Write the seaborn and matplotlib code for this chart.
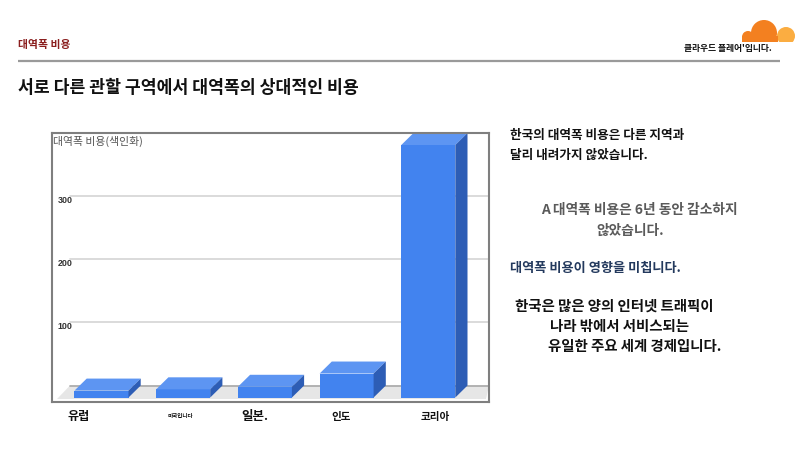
import matplotlib
matplotlib.use('Agg')
import matplotlib.pyplot as plt
import seaborn as sns
from matplotlib.patches import Polygon, Circle, Rectangle
from matplotlib.transforms import ScaledTranslation

# ---------------- data ----------------
categories = ['유럽', '미국입니다', '일본.', '인도', '코리아']
cost_index = [11, 13, 17, 38, 400]
y_ticks = [100, 200, 300]
y_tick_labels = ['100', '200', '300']

title = '서로 다른 관할 구역에서 대역폭의 상대적인 비용'
header = '대역폭 비용'
brand = "클라우드 플레어'입니다."
y_label = '대역폭 비용(색인화)'

# ---------------- style ----------------
sns.set_theme(style='white')
plt.rcParams['font.family'] = ['Noto Sans CJK KR', 'DejaVu Sans']

W, H = 800, 449
fig = plt.figure(figsize=(8, 4.49), dpi=100, facecolor='white')

bg = fig.add_axes([0, 0, 1, 1])
bg.set_xlim(0, W)
bg.set_ylim(H, 0)
bg.axis('off')

# header area
bg.text(18, 45, header, color='#8b1f1f', fontsize=7.8, fontweight='bold', va='center')
bg.text(772, 48, brand, fontsize=6.3, fontweight='bold', ha='right', va='center', color='#111')
bg.plot([18, 780], [61, 61], color='#9a9a9a', lw=1.6, solid_capstyle='butt')
bg.text(18, 88, title, fontsize=12.4, fontweight='bold', va='center', color='#111')

# logo (decorative cloud)
clip = Rectangle((735, 12), 65, 30, transform=bg.transData)
for (cx, cy, r, col) in [(786, 36, 9, '#fbad41'), (764, 33, 13, '#f38020'),
                         (748, 37, 6, '#f38020')]:
    c = Circle((cx, cy), r, color=col, zorder=2, lw=0)
    bg.add_patch(c)
    c.set_clip_path(clip)
bg.add_patch(Rectangle((742, 36), 36, 6, color='#f38020', zorder=2, lw=0))

# right-hand text
bg.text(510, 135, '한국의 대역폭 비용은 다른 지역과', fontsize=9.1, fontweight='bold', va='center', color='#111')
bg.text(510, 155, '달리 내려가지 않았습니다.', fontsize=9.1, fontweight='bold', va='center', color='#111')
bg.text(639, 210, 'A 대역폭 비용은 6년 동안 감소하지', fontsize=9.9, fontweight='bold', ha='center', va='center', color='#5a5a5a')
bg.text(630, 231, '않았습니다.', fontsize=9.9, fontweight='bold', ha='center', va='center', color='#5a5a5a')
bg.text(510, 268, '대역폭 비용이 영향을 미칩니다.', fontsize=9.5, fontweight='bold', va='center', color='#23395d')
bg.text(515, 307, '한국은 많은 양의 인터넷 트래픽이', fontsize=10.4, fontweight='bold', va='center', color='#111')
bg.text(550, 327, '나라 밖에서 서비스되는', fontsize=10.4, fontweight='bold', va='center', color='#111')
bg.text(548, 347, '유일한 주요 세계 경제입니다.', fontsize=10.4, fontweight='bold', va='center', color='#111')

# y label inside chart box
bg.text(53, 141, y_label, fontsize=7.8, color='#555555', va='center')

# ---------------- chart ----------------
L, R, T, B = 52, 489, 133, 402
ax = fig.add_axes([L / W, (H - B) / H, (R - L) / W, (B - T) / H])
ax.patch.set_alpha(0)

front_col = '#4283ef'
top_col = '#5d95f2'
side_col = '#2d5db5'

sns.barplot(x=categories, y=cost_index, color=front_col, saturation=1,
            width=0.661, ax=ax, zorder=4, linewidth=0)

x_unit = 81.7          # pixels per category
back_c0 = 113.7        # pixel x of first back center
y_lo, y_hi = -26.1, 400
px_per_y = (B - T) / (y_hi - y_lo)
DX = 12.2 / x_unit
DY = 12.0 / px_per_y

ax.set_xlim(-(back_c0 - L) / x_unit, (R - back_c0) / x_unit)
ax.set_ylim(y_lo, y_hi)

# floor
def px2x(p):
    return (p - back_c0) / x_unit
floor_front = -(399 - 385.5) / px_per_y
ax.add_patch(Polygon([(px2x(70), 0), (px2x(489), 0), (px2x(486), floor_front),
                      (px2x(57), floor_front)], closed=True, color='#e6e6e6',
                     zorder=1, lw=0))

# gridlines
xmin_frac = (70 - L) / (R - L)
ax.axhline(0, xmin=xmin_frac, color='#a8a8a8', lw=1.2, zorder=2)
for v in y_ticks:
    ax.axhline(v, xmin=xmin_frac, color='#d8d8d8', lw=1.3, zorder=2)

# 3D faces derived from the seaborn bars
for p in ax.containers[0]:
    x0, w, h = p.get_x(), p.get_width(), p.get_height()
    p.set_x(x0 - DX)
    p.set_y(-DY)
    top = Polygon([(x0 - DX, h - DY), (x0 - DX + w, h - DY), (x0 + w, h), (x0, h)],
                  closed=True, color=top_col, lw=0, zorder=4, clip_on=True)
    side = Polygon([(x0 - DX + w, h - DY), (x0 + w, h), (x0 + w, 0), (x0 - DX + w, -DY)],
                   closed=True, color=side_col, lw=0, zorder=4, clip_on=True)
    ax.add_patch(top)
    ax.add_patch(side)

# spines / box
for s in ax.spines.values():
    s.set_visible(True)
    s.set_color('#7f7f7f')
    s.set_linewidth(1.5)
    s.set_zorder(6)

# y ticks inside
ax.set_yticks(y_ticks, y_tick_labels)
ax.tick_params(axis='y', length=0, pad=-14.8, labelsize=6.4, labelcolor='#333333')
for lab in ax.get_yticklabels():
    lab.set_fontweight('bold')
    lab.set_va('top')
    lab.set_family(['Liberation Sans', 'DejaVu Sans'])

# x ticks at front faces
ax.set_xticks([i - DX for i in range(len(categories))], categories)
ax.set_xlabel('')
ax.set_ylabel('')
ax.tick_params(axis='x', length=0, pad=10.5)
x_sizes = [8.7, 4, 9, 7.6, 7.6]
x_nudge = [-23, -3, -10, -5, 7]
for lab, fs, dx in zip(ax.get_xticklabels(), x_sizes, x_nudge):
    lab.set_fontsize(fs)
    lab.set_fontweight('bold')
    lab.set_va('center')
    lab.set_color('#111111')
    lab.set_transform(lab.get_transform() + ScaledTranslation(dx / 100, 0, fig.dpi_scale_trans))

fig.savefig('out.png', dpi=100, facecolor='white')
